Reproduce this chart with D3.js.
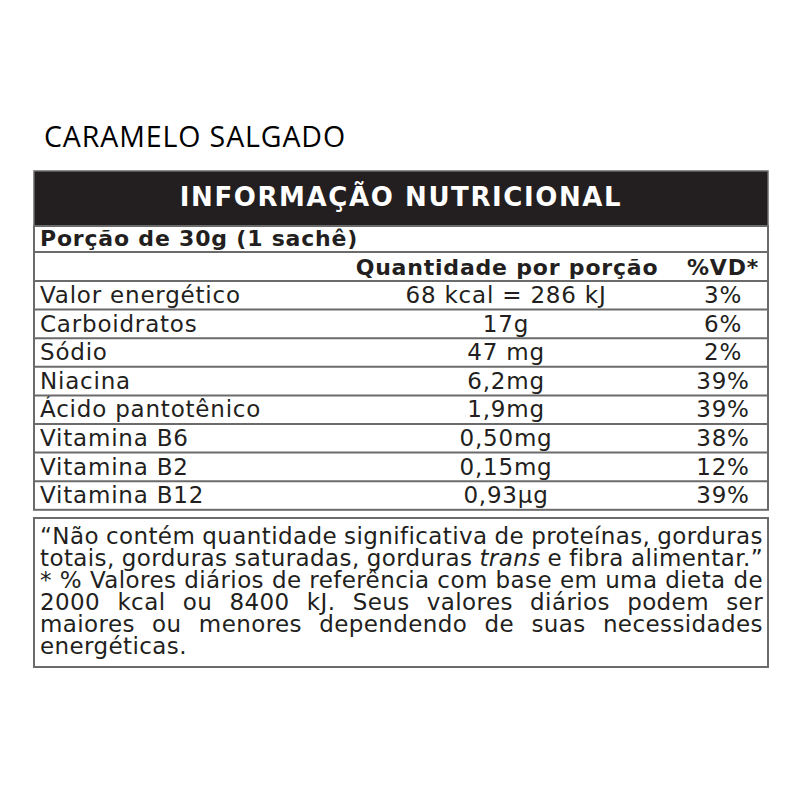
<!DOCTYPE html>
<html><head><meta charset="utf-8">
<script src="https://cdn.jsdelivr.net/npm/d3@7"></script>
<style>body{margin:0;background:#fff}</style>
</head><body>
<svg id="c" width="800" height="800"></svg>
<script>
const title = "CARAMELO SALGADO";
const headerTitle = "INFORMAÇÃO NUTRICIONAL";
const portion = "Porção de 30g (1 sachê)";
const colHeaders = ["", "Quantidade por porção", "%VD*"];
const nutrients = ["Valor energético","Carboidratos","Sódio","Niacina","Ácido pantotênico","Vitamina B6","Vitamina B2","Vitamina B12"];
const quantities = ["68 kcal = 286 kJ","17g","47 mg","6,2mg","1,9mg","0,50mg","0,15mg","0,93µg"];
const dailyValues = ["3%","6%","2%","39%","39%","38%","12%","39%"];
const footLines = [
  ["“Não contém quantidade significativa de proteínas, gorduras", true],
  ["totais, gorduras saturadas, gorduras |trans| e fibra alimentar.”", true],
  ["* % Valores diários de referência com base em uma dieta de", true],
  ["2000 kcal ou 8400 kJ. Seus valores diários podem ser", true],
  ["maiores ou menores dependendo de suas necessidades", true],
  ["energéticas.", false]
];

const svg = d3.select("#c");
const L = 34, R = 768;
const font = "'DejaVu Sans', Verdana, sans-serif";
const lineCol = "#6b6b6b";
const ink = "#231f20";

svg.append("text").attr("x",44).attr("y",147)
  .attr("font-family","'Open Sans', sans-serif").attr("font-size",28.5)
  .attr("letter-spacing",0.9).attr("fill","#000").text(title);

// header box
svg.append("rect").attr("x",L).attr("y",171).attr("width",R-L).attr("height",55)
  .attr("fill",ink).attr("stroke",lineCol).attr("stroke-width",1.5);
svg.append("text").attr("x",(L+R)/2).attr("y",206).attr("text-anchor","middle")
  .attr("font-family",font).attr("font-weight","bold").attr("font-size",26)
  .attr("letter-spacing",1.6).attr("fill","#fff").text(headerTitle);

// table rows
const rowTop = 281, rowH = 28.6;
const y = d3.scaleBand().domain(nutrients).range([rowTop, rowTop + rowH*nutrients.length]).padding(0);
const tableBottom = rowTop + rowH*nutrients.length;

const g = svg.append("g");
const boldText = (x, yy, anchor, t) => g.append("text").attr("x",x).attr("y",yy)
  .attr("text-anchor",anchor).attr("font-family",font).attr("font-weight","bold")
  .attr("font-size",22).attr("letter-spacing",0.8).attr("fill",ink).text(t);
boldText(40, 246, "start", portion);
boldText(507, 275, "middle", colHeaders[1]);
boldText(723, 275, "middle", colHeaders[2]);

const rows = g.selectAll("g.row").data(nutrients).join("g").attr("class","row")
  .attr("transform", d => `translate(0,${y(d)})`);
const cell = (sel, x, anchor, fn) => sel.append("text").attr("x",x).attr("y",rowH-6.5)
  .attr("text-anchor",anchor).attr("font-family",font).attr("font-size",23)
  .attr("letter-spacing",0.8).attr("fill",ink).text(fn);
cell(rows, 40, "start", d=>d);
cell(rows, 506, "middle", (d,i)=>quantities[i]);
cell(rows, 723, "middle", (d,i)=>dailyValues[i]);

// lines
const hLines = [252, 281].concat(nutrients.slice(1).map(d=>y(d)));
g.selectAll("line.h").data(hLines).join("line").attr("class","h")
  .attr("x1",L).attr("x2",R).attr("y1",d=>d).attr("y2",d=>d)
  .attr("stroke",lineCol).attr("stroke-width",2);
g.append("rect").attr("x",L).attr("y",226).attr("width",R-L).attr("height",tableBottom-226)
  .attr("fill","none").attr("stroke",lineCol).attr("stroke-width",2);

// footnote box
svg.append("rect").attr("x",L).attr("y",518).attr("width",R-L).attr("height",149)
  .attr("fill","none").attr("stroke",lineCol).attr("stroke-width",2);

const fSize = 23, fx0 = 40, fx1 = 763;
const fg = svg.append("g").attr("font-family",font).attr("font-size",fSize)
  .attr("letter-spacing",0.4).attr("fill",ink);
footLines.forEach(([line, justify], li) => {
  const by = 544 + li*21.9;
  const t = fg.append("text").attr("x",fx0).attr("y",by);
  line.split("|").forEach((part, pi) => {
    t.append("tspan").attr("font-style", pi % 2 ? "italic" : "normal").text(part);
  });
  if (justify) {
    const w = t.node().getComputedTextLength();
    const nSpaces = (line.match(/ /g) || []).length;
    if (nSpaces > 0) t.attr("word-spacing", (fx1 - fx0 - w) / nSpaces);
  }
});
</script>
</body></html>
